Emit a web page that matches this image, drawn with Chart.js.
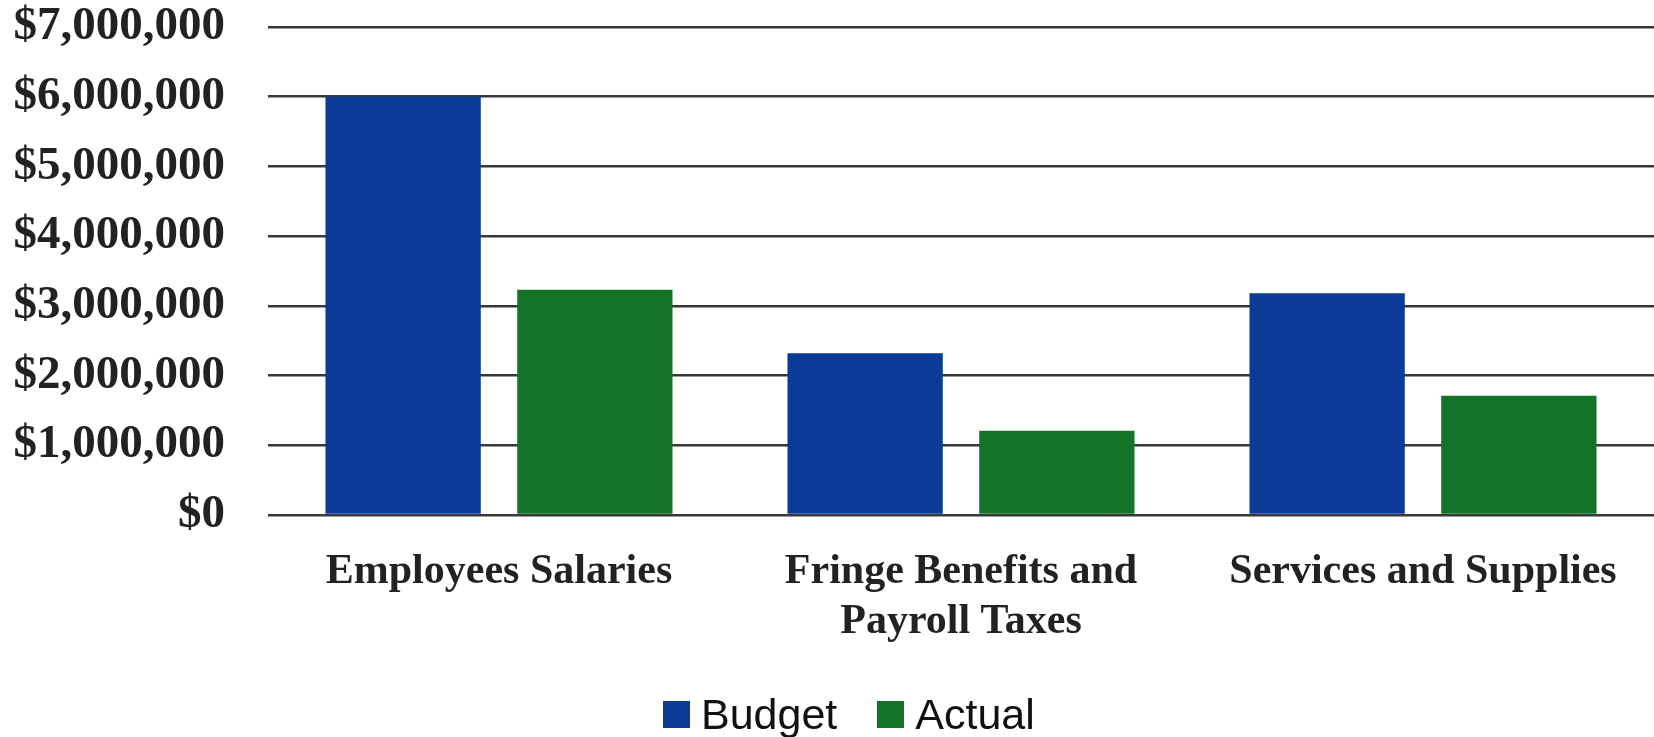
<!DOCTYPE html>
<html>
<head>
<meta charset="utf-8">
<script src="https://cdn.jsdelivr.net/npm/chart.js@4"></script>
<style>
    body { margin: 0; background: #fff; }
    #wrap { position: relative; width: 1654px; height: 737px; }
    #chart { display: block; }
    #legend {
        position: absolute; left: 663px; top: 690px;
        display: flex; align-items: center; gap: 40px;
        font-family: 'Liberation Sans', Arial, sans-serif; font-size: 43px; color: #111;
    }
    .item { display: flex; align-items: center; gap: 11px; }
    .box { width: 27px; height: 27px; }
</style>
</head>
<body>
<div id="wrap">
    <canvas id="chart" width="1654" height="737"></canvas>
    <div id="legend"></div>
</div>
<script>
// Data
const categories = [
    "Employees Salaries",
    ["Fringe Benefits and", "Payroll Taxes"],
    "Services and Supplies"
];
const budget = [6000000, 2320000, 3180000];
const actual = [3230000, 1210000, 1710000];

const BLUE = "#0b3a98";
const GREEN = "#137428";
const GRID = "#383838";

const serif = "'Liberation Serif', 'Times New Roman', serif";

const chart = new Chart(document.getElementById("chart"), {
    type: "bar",
    data: {
        labels: categories,
        datasets: [
            { label: "Budget", data: budget, backgroundColor: BLUE },
            { label: "Actual", data: actual, backgroundColor: GREEN }
        ]
    },
    options: {
        responsive: false,
        animation: false,
        categoryPercentage: 0.83,
        barPercentage: 0.81,
        layout: { padding: { top: 27, right: 0, bottom: 0, left: 0 } },
        plugins: {
            tooltip: { enabled: false },
            legend: { display: false }
        },
        scales: {
            x: {
                grid: { display: false },
                border: { display: false },
                ticks: {
                    font: { family: serif, size: 42, weight: "bold", lineHeight: 1.17 },
                    color: "#222",
                    padding: 25,
                    maxRotation: 0,
                    autoSkip: false
                },
                afterFit: (scale) => {
                    scale.height = 222;
                    scale.paddingLeft = 0;
                    scale.paddingRight = 0;
                }
            },
            y: {
                min: 0,
                max: 7000000,
                ticks: {
                    stepSize: 1000000,
                    font: { family: serif, size: 47, weight: "bold" },
                    color: "#222",
                    padding: 43,
                    callback: (v) => "$" + v.toLocaleString("en-US")
                },
                grid: { color: GRID, lineWidth: 2.6, drawTicks: false },
                border: { display: false },
                afterFit: (scale) => {
                    scale.width = 268;
                    scale.paddingTop = 0;
                    scale.paddingBottom = 0;
                }
            }
        }
    }
});

// html legend built from the datasets
const legend = document.getElementById("legend");
chart.data.datasets.forEach(ds => {
    const item = document.createElement("div");
    item.className = "item";
    item.innerHTML = `<span class="box" style="background:${ds.backgroundColor}"></span><span>${ds.label}</span>`;
    legend.appendChild(item);
});
</script>
</body>
</html>
